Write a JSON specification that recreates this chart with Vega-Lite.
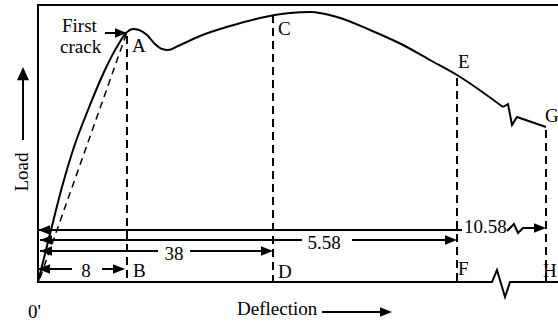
{
  "$schema": "https://vega.github.io/schema/vega-lite/v6.json",
  "width": 558,
  "height": 322,
  "padding": 0,
  "autosize": {"type": "none"},
  "background": "white",
  "config": {"view": {"stroke": null}, "text": {"font": "Times New Roman, Liberation Serif, serif"}},
  "datasets": {
    "frame": [
      {"path": "frame", "i": 0, "d": 558, "load": 317},
      {"path": "frame", "i": 1, "d": 38, "load": 317},
      {"path": "frame", "i": 2, "d": 38, "load": 40},
      {"path": "frame", "i": 3, "d": 492, "load": 40},
      {"path": "frame", "i": 4, "d": 497, "load": 52},
      {"path": "frame", "i": 5, "d": 505, "load": 25},
      {"path": "frame", "i": 6, "d": 510, "load": 40},
      {"path": "frame", "i": 7, "d": 558, "load": 40}
    ],
    "curve": [
      {"d": 38, "load": 40}, {"d": 50, "load": 88}, {"d": 62, "load": 135},
      {"d": 74, "load": 175}, {"d": 88, "load": 212}, {"d": 104, "load": 250},
      {"d": 118, "load": 277}, {"d": 127, "load": 290}, {"d": 133, "load": 293},
      {"d": 139, "load": 292}, {"d": 147, "load": 287}, {"d": 155, "load": 278},
      {"d": 162, "load": 273}, {"d": 168, "load": 272}, {"d": 178, "load": 276},
      {"d": 200, "load": 286}, {"d": 230, "load": 296}, {"d": 260, "load": 304},
      {"d": 290, "load": 309}, {"d": 310, "load": 310}, {"d": 337, "load": 305},
      {"d": 370, "load": 292}, {"d": 403, "load": 277}, {"d": 430, "load": 262},
      {"d": 457, "load": 247}, {"d": 503, "load": 215}
    ],
    "tail": [
      {"path": "curve", "i": 0, "d": 503, "load": 215},
      {"path": "curve", "i": 1, "d": 508, "load": 218},
      {"path": "curve", "i": 2, "d": 512, "load": 197},
      {"path": "curve", "i": 3, "d": 517, "load": 205},
      {"path": "curve", "i": 4, "d": 546, "load": 195},
      {"path": "dim", "i": 0, "d": 507, "load": 91},
      {"path": "dim", "i": 1, "d": 514, "load": 98},
      {"path": "dim", "i": 2, "d": 518, "load": 89},
      {"path": "dim", "i": 3, "d": 523, "load": 94},
      {"path": "dim", "i": 4, "d": 540, "load": 94}
    ],
    "verticals": [
      {"point": "A", "d": 127, "top": 286, "bottom": 40},
      {"point": "C", "d": 273, "top": 307, "bottom": 40},
      {"point": "E", "d": 457, "top": 244, "bottom": 40},
      {"point": "G", "d": 546, "top": 192, "bottom": 40}
    ],
    "secant": [
      {"d": 40, "load": 44, "d2": 127, "load2": 290}
    ],
    "dims": [
      {"d": 38, "d2": 462, "load": 92},
      {"d": 40, "d2": 302, "load": 82},
      {"d": 352, "d2": 450, "load": 82},
      {"d": 40, "d2": 158, "load": 71},
      {"d": 190, "d2": 266, "load": 71},
      {"d": 38, "d2": 72, "load": 53},
      {"d": 102, "d2": 118, "load": 53},
      {"d": 105, "d2": 120, "load": 289},
      {"d": 322, "d2": 382, "load": 10},
      {"d": 23, "d2": 23, "load": 182, "load2": 248}
    ],
    "headsRight": [
      {"d": 457, "load": 82}, {"d": 273, "load": 71}, {"d": 125, "load": 53},
      {"d": 546, "load": 94}, {"d": 127, "load": 289}, {"d": 392, "load": 10}
    ],
    "headsLeft": [
      {"d": 38, "load": 92}, {"d": 40, "load": 82}, {"d": 40, "load": 71}, {"d": 38, "load": 53}
    ],
    "headsUp": [
      {"d": 23, "load": 255}
    ],
    "labels": [
      {"text": "First", "d": 62, "load": 290},
      {"text": "crack", "d": 60, "load": 269},
      {"text": "A", "d": 132, "load": 270},
      {"text": "B", "d": 133, "load": 45},
      {"text": "C", "d": 278, "load": 287},
      {"text": "D", "d": 278, "load": 44},
      {"text": "E", "d": 458, "load": 254},
      {"text": "F", "d": 458, "load": 47},
      {"text": "G", "d": 545, "load": 200},
      {"text": "H", "d": 543, "load": 45},
      {"text": "0'", "d": 28, "load": 4},
      {"text": "Deflection", "d": 237, "load": 7},
      {"text": "10.58", "d": 464, "load": 89}
    ],
    "numbers": [
      {"text": "38", "d": 174, "load": 62},
      {"text": "5.58", "d": 324, "load": 73},
      {"text": "8", "d": 86, "load": 45}
    ]
  },
  "encoding": {
    "x": {"field": "d", "type": "quantitative", "scale": {"domain": [0, 558], "nice": false, "zero": false}, "axis": null},
    "y": {"field": "load", "type": "quantitative", "scale": {"domain": [0, 322], "nice": false, "zero": false}, "axis": null}
  },
  "layer": [
    {
      "data": {"name": "frame"},
      "mark": {"type": "line", "color": "black", "strokeWidth": 2},
      "encoding": {"order": {"field": "i"}, "detail": {"field": "path"}}
    },
    {
      "data": {"name": "curve"},
      "mark": {"type": "line", "color": "black", "strokeWidth": 2, "interpolate": "monotone"},
      "encoding": {}
    },
    {
      "data": {"name": "tail"},
      "mark": {"type": "line", "color": "black", "strokeWidth": 2},
      "encoding": {"order": {"field": "i"}, "detail": {"field": "path"}}
    },
    {
      "data": {"name": "verticals"},
      "mark": {"type": "rule", "color": "black", "strokeWidth": 2, "strokeDash": [8, 5]},
      "encoding": {
        "y": {"field": "top", "type": "quantitative"},
        "y2": {"field": "bottom"}
      }
    },
    {
      "data": {"name": "secant"},
      "mark": {"type": "rule", "color": "black", "strokeWidth": 1.5, "strokeDash": [7, 5]},
      "encoding": {"x2": {"field": "d2"}, "y2": {"field": "load2"}}
    },
    {
      "data": {"name": "dims"},
      "mark": {"type": "rule", "color": "black", "strokeWidth": 2},
      "encoding": {"x2": {"field": "d2"}, "y2": {"field": "load2"}}
    },
    {
      "data": {"name": "headsRight"},
      "mark": {"type": "point", "filled": true, "color": "black", "opacity": 1, "size": 144, "shape": "M 0 0 L -2 -0.8 L -2 0.8 Z"},
      "encoding": {}
    },
    {
      "data": {"name": "headsLeft"},
      "mark": {"type": "point", "filled": true, "color": "black", "opacity": 1, "size": 144, "shape": "M 0 0 L 2 -0.8 L 2 0.8 Z"},
      "encoding": {}
    },
    {
      "data": {"name": "headsUp"},
      "mark": {"type": "point", "filled": true, "color": "black", "opacity": 1, "size": 144, "shape": "M 0 0 L -1 2.2 L 1 2.2 Z"},
      "encoding": {}
    },
    {
      "data": {"name": "labels"},
      "mark": {"type": "text", "font": "Times New Roman, Liberation Serif, serif", "fontSize": 19, "align": "left", "baseline": "alphabetic", "color": "black"},
      "encoding": {"text": {"field": "text"}}
    },
    {
      "data": {"name": "numbers"},
      "mark": {"type": "text", "font": "Times New Roman, Liberation Serif, serif", "fontSize": 19, "align": "center", "baseline": "alphabetic", "color": "black"},
      "encoding": {"text": {"field": "text"}}
    },
    {
      "data": {"values": [{"text": "Load", "d": 28, "load": 150}]},
      "mark": {"type": "text", "font": "Times New Roman, Liberation Serif, serif", "fontSize": 19, "align": "center", "baseline": "alphabetic", "angle": 270, "color": "black"},
      "encoding": {"text": {"field": "text"}}
    }
  ]
}
